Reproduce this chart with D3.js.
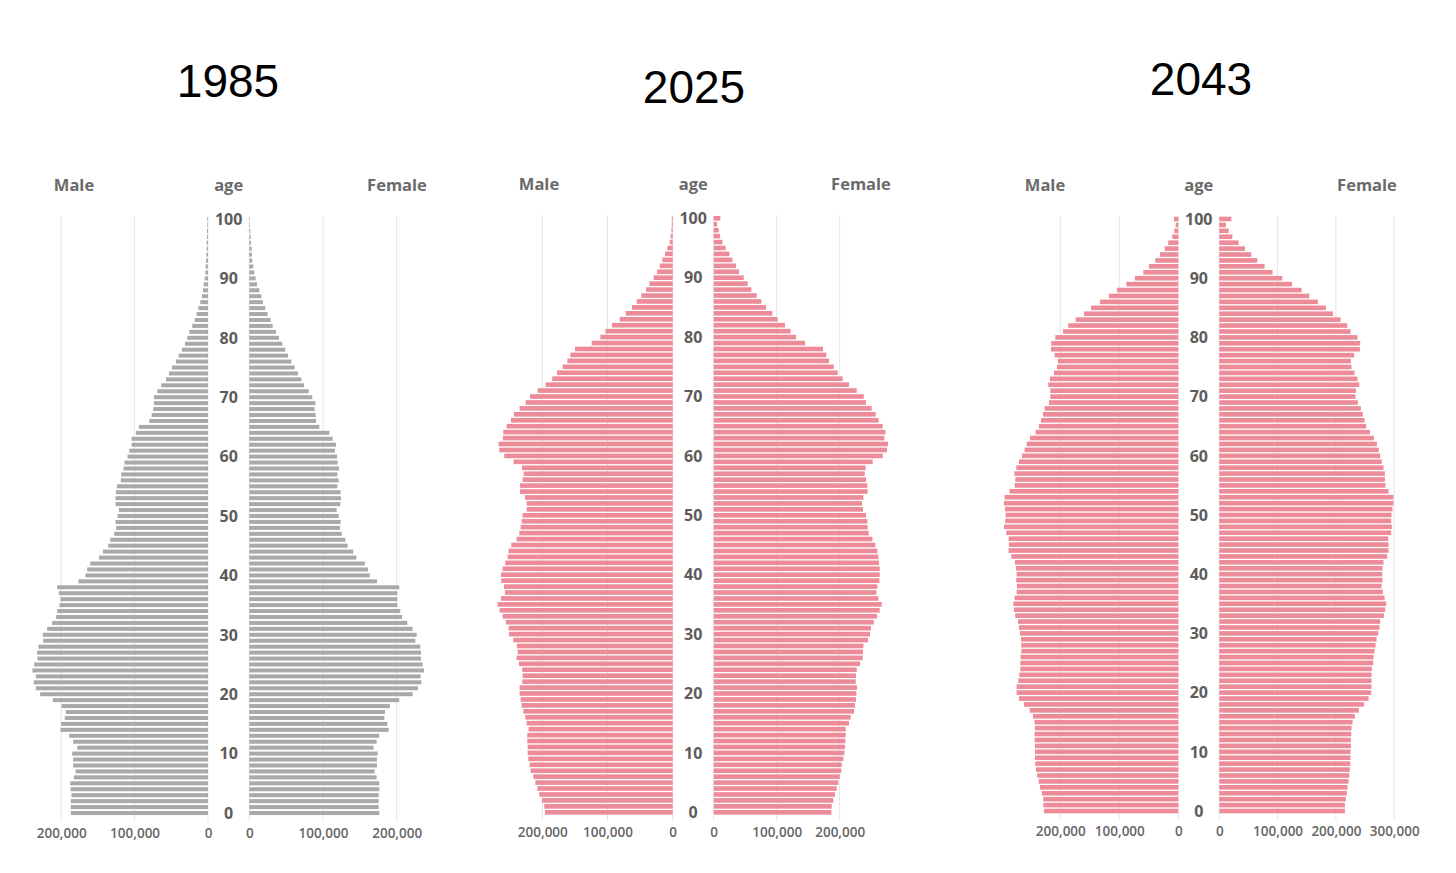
<!DOCTYPE html>
<html>
<head>
<meta charset="utf-8">
<script src="https://cdn.jsdelivr.net/npm/d3@7/dist/d3.min.js"></script>
<style>
  html, body { margin: 0; padding: 0; background: #ffffff; }
  svg { display: block; }
</style>
</head>
<body>
<svg id="chart" width="1456" height="873"></svg>
<script>
// ---------------- DATA (ages 0 .. 100) ----------------
const ages = d3.range(0, 101);
const ageTicks = [0, 10, 20, 30, 40, 50, 60, 70, 80, 90, 100];
const years = ["1985", "2025", "2043"];

const male1985 = [186900,186900,186900,186000,187300,187800,182800,180500,183700,183700,
185100,178200,183700,189200,201000,200100,195100,193700,199600,211400,
228700,234600,237400,234600,239200,236900,232400,232800,231000,224600,
225100,219200,212300,206900,205500,202300,201000,203300,205500,176400,
166900,164600,160500,148700,143200,136000,133200,127800,125000,126000,
123200,121400,126000,126000,125500,124100,118700,118200,115000,113700,
109600,107300,104100,104100,98200,94100,80000,76800,74600,73700,
73700,69100,63700,57300,53200,49100,43700,40000,35500,31400,
28200,25500,21400,18200,15500,13200,10500,8200,6800,5900,
4500,3600,3200,2700,2300,1800,1800,1400,1400,900,900];

const female1985 = [176400,175500,175500,175500,176400,176400,172800,170100,173200,173200,
174100,168700,172800,176400,189100,187300,183200,184100,190900,203500,
221600,228900,233400,232500,237000,235200,232900,232900,232000,225200,
227100,221600,214400,207200,204900,200800,200800,200800,203500,173200,
163300,161000,156900,145200,141100,133400,130300,125300,123000,123900,
121200,118500,123500,124400,123900,119400,121200,119400,121700,119900,
119000,116200,117600,113100,108600,95000,90500,90000,88600,89600,
85500,80500,74200,70600,66000,61500,57000,52500,48800,44800,
40300,36200,31700,28900,24900,21700,18500,16300,13600,10400,
8600,6800,5400,4100,3600,3200,2300,1800,1400,900,500];

const male2025 = [195900,196900,200500,204600,207700,210700,213800,217900,219400,221500,
222500,222500,223000,223000,221000,224000,226100,229200,231700,233200,
234800,234800,230700,230200,230700,235800,239400,237800,238900,244500,
251100,251700,255800,260900,265500,268500,263400,257300,258800,262900,
263400,260900,256800,253200,251700,247600,239400,235300,233200,231700,
230200,224000,224000,226600,234300,234300,230200,228600,231200,244000,
258300,266000,267000,260400,259800,254700,248100,243500,234800,225600,
218900,207200,194900,184700,177500,168800,161600,157000,149900,124300,
111000,103300,93100,81300,72100,62400,55200,48100,40900,35800,
29200,24000,19900,15900,11800,8200,4600,3100,2000,1500,1500];

const female2025 = [186800,187300,189900,192600,195200,197900,200000,202600,203200,205800,
207400,208500,209000,209500,209500,214800,217500,222800,224300,225900,
226500,227500,225400,225900,227000,232300,236500,237000,237600,245000,
248100,249700,254000,259300,263500,266700,261400,258200,259800,263000,
263500,263500,262400,261400,259800,256600,251900,246000,244400,243900,
241800,237000,235400,237600,244400,243900,241800,239700,241300,252400,
268300,275100,276700,270900,272500,268300,261900,257100,250800,241800,
238100,227000,214800,204800,196800,190500,183100,178800,173500,145000,
130700,122200,113200,101600,93100,83100,75700,68300,59800,54000,
47600,40200,35400,29600,24900,19000,13800,10100,7900,5300,10600];

const male2043 = [227700,228800,228800,231100,234500,236700,239000,241300,242400,243000,
243000,243000,243500,243500,243000,243500,246300,252000,261600,270100,
274000,274000,271200,269500,267800,267800,267200,266100,266100,266700,
268400,270100,271800,276300,278500,279700,277400,274000,273500,274600,
274000,275200,276900,283100,287600,287000,287600,291500,295500,293200,
292700,293800,295500,294400,285900,277400,276300,278000,274600,270100,
265000,260500,257100,251400,241800,236200,232800,229400,226600,219200,
217000,217000,220400,217500,210700,205700,204000,209600,215800,215300,
208500,195500,186500,174000,159900,148000,132800,117500,104000,88100,
73500,59300,49700,39000,31100,23200,17000,10200,6800,4500,7300];

const female2043 = [215400,215400,217100,218800,220000,221700,222900,224000,224600,225100,
225100,225700,225700,226300,226800,228600,232600,239400,248000,256000,
260600,261100,261100,261100,261700,264000,264600,266300,268000,269700,
272600,274800,276000,282300,284600,286300,283400,280600,278300,280000,
279400,280000,281700,288000,290300,290300,289700,294800,296000,294800,
295400,297100,298800,298800,290300,285100,284000,284000,281700,278800,
276000,273700,270300,265100,258300,252000,249100,246300,242800,237700,
233700,234300,240000,237100,232000,226800,225700,231400,241100,241700,
237100,225100,219400,208000,194900,182900,169100,154300,141100,124600,
108000,91400,77700,65100,54900,44000,33100,22300,16000,11400,20600];

const maleTicks = [0, 100000, 200000];
const femaleTicks1985 = [0, 100000, 200000];
const femaleTicks2025 = [0, 100000, 200000];
const femaleTicks2043 = [0, 100000, 200000, 300000];

// ---------------- LAYOUT ----------------
const panels = [
  { year: years[0], male: male1985, female: female1985, fTicks: femaleTicks1985,
    color: "#a9a9a9", pad: 0.32,
    maleZero: 208, malePx: 73.4, femaleZero: 249.3, femalePx: 73.7,
    yTop: 219, yBot: 813, titleX: 228, titleY: 97, headY: 191,
    maleLabelX: 74, femaleLabelX: 397 },
  { year: years[1], male: male2025, female: female2025, fTicks: femaleTicks2025,
    color: "#ee8b98", pad: 0.22,
    maleZero: 672.7, malePx: 65.2, femaleZero: 713.7, femalePx: 63.0,
    yTop: 218.3, yBot: 812.3, titleX: 694, titleY: 103, headY: 190,
    maleLabelX: 539, femaleLabelX: 861 },
  { year: years[2], male: male2043, female: female2043, fTicks: femaleTicks2043,
    color: "#ee8b98", pad: 0.22,
    maleZero: 1178.3, malePx: 59.0, femaleZero: 1219.3, femalePx: 58.3,
    yTop: 219, yBot: 811, titleX: 1201, titleY: 95, headY: 191,
    maleLabelX: 1045, femaleLabelX: 1367 }
];

const svg = d3.select("#chart");
const fmt = d3.format(",");

panels.forEach(p => {
  const g = svg.append("g");
  const step = (p.yBot - p.yTop) / 100;
  const y = d3.scaleBand()
    .domain(ages.slice().reverse())
    .range([p.yTop - step / 2, p.yBot + step / 2])
    .paddingInner(p.pad).paddingOuter(p.pad / 2);
  const xm = d3.scaleLinear().domain([0, 100000]).range([p.maleZero, p.maleZero - p.malePx]);
  const xf = d3.scaleLinear().domain([0, 100000]).range([p.femaleZero, p.femaleZero + p.femalePx]);
  const centerX = (p.maleZero + p.femaleZero) / 2;

  // title
  g.append("text")
    .attr("x", p.titleX).attr("y", p.titleY)
    .attr("text-anchor", "middle")
    .style("font-family", "'Liberation Sans', Arial, sans-serif")
    .style("font-size", "46px")
    .style("fill", "#000")
    .text(p.year);

  // header labels
  const head = [["Male", p.maleLabelX], ["age", centerX], ["Female", p.femaleLabelX]];
  g.selectAll(".head").data(head).enter().append("text")
    .attr("x", d => d[1])
    .attr("y", p.headY)
    .attr("text-anchor", "middle")
    .style("font-family", "'Open Sans', sans-serif")
    .style("font-weight", 700)
    .style("font-size", "16.5px")
    .style("fill", "#6a6a6a")
    .text(d => d[0]);

  // gridlines
  const gTop = p.yTop - 3, gBot = p.yBot + 9;
  g.selectAll(".gm").data(maleTicks).enter().append("line")
    .attr("x1", d => xm(d)).attr("x2", d => xm(d))
    .attr("y1", gTop).attr("y2", gBot)
    .attr("stroke", "#e6e6e6").attr("stroke-width", 1);
  g.selectAll(".gf").data(p.fTicks).enter().append("line")
    .attr("x1", d => xf(d)).attr("x2", d => xf(d))
    .attr("y1", gTop).attr("y2", gBot)
    .attr("stroke", "#e6e6e6").attr("stroke-width", 1);

  // bars
  g.append("g").selectAll("rect").data(ages).enter().append("rect")
    .attr("x", a => xm(p.male[a]))
    .attr("width", a => xm(0) - xm(p.male[a]))
    .attr("y", a => y(a))
    .attr("height", y.bandwidth())
    .attr("fill", p.color);
  g.append("g").selectAll("rect").data(ages).enter().append("rect")
    .attr("x", xf(0))
    .attr("width", a => xf(p.female[a]) - xf(0))
    .attr("y", a => y(a))
    .attr("height", y.bandwidth())
    .attr("fill", p.color);

  // age labels
  g.selectAll(".age").data(ageTicks).enter().append("text")
    .attr("x", centerX)
    .attr("y", a => y(a) + y.bandwidth() / 2)
    .attr("dy", "0.36em")
    .attr("text-anchor", "middle")
    .style("font-family", "'Open Sans', sans-serif")
    .style("font-weight", 700)
    .style("font-size", "16px")
    .style("fill", "#5c5c5c")
    .text(a => a);

  // bottom axes
  const axisY = p.yBot + 15;
  const styleAxis = sel => {
    sel.select(".domain").remove();
    sel.selectAll(".tick line").remove();
    sel.selectAll(".tick text")
      .style("font-family", "'Open Sans', sans-serif")
      .style("font-weight", 600)
      .style("font-size", "13.5px")
      .style("fill", "#666666");
  };
  g.append("g").attr("transform", `translate(0,${axisY})`)
    .call(d3.axisBottom(xm).tickValues(maleTicks).tickFormat(fmt).tickSize(0).tickPadding(0))
    .call(styleAxis);
  g.append("g").attr("transform", `translate(0,${axisY})`)
    .call(d3.axisBottom(xf).tickValues(p.fTicks).tickFormat(fmt).tickSize(0).tickPadding(0))
    .call(styleAxis);
});
</script>
</body>
</html>
